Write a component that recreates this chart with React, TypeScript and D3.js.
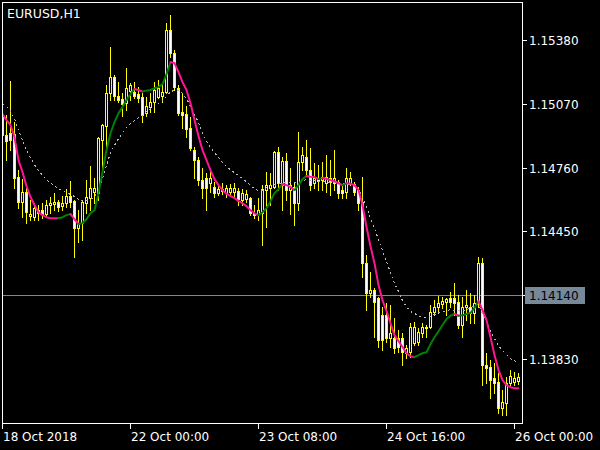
import React from "react";
import * as d3 from "d3";

const symbolTitle = "EURUSD,H1";

const high = [
  1.15039, 1.15015, 1.15180, 1.14981, 1.14748, 1.14704, 1.14660, 1.14602, 1.14587, 1.14578,
  1.14587, 1.14602, 1.14617, 1.14636, 1.14602, 1.14622, 1.14655, 1.14694, 1.14602, 1.14553,
  1.14602, 1.14699, 1.14767, 1.14709, 1.14908, 1.14972, 1.15161, 1.15346, 1.15210, 1.15175,
  1.15122, 1.15243, 1.15170, 1.15175, 1.15151, 1.15122, 1.15103, 1.15122, 1.15175, 1.15185,
  1.15161, 1.15462, 1.15501, 1.15331, 1.15161, 1.15122, 1.15059, 1.15005, 1.14860, 1.14811,
  1.14757, 1.14733, 1.14752, 1.14689, 1.14675, 1.14684, 1.14675, 1.14680, 1.14684, 1.14660,
  1.14655, 1.14651, 1.14617, 1.14578, 1.14612, 1.14675, 1.14738, 1.14733, 1.14840, 1.14860,
  1.14811, 1.14830, 1.14757, 1.14684, 1.14932, 1.14860, 1.14894, 1.14855, 1.14781, 1.14772,
  1.14786, 1.14821, 1.14796, 1.14845, 1.14699, 1.14675, 1.14757, 1.14738, 1.14689, 1.14665,
  1.14714, 1.14335, 1.14252, 1.14174, 1.14131, 1.14082, 1.14101, 1.14092, 1.14028, 1.13970,
  1.13955, 1.13898, 1.14004, 1.14009, 1.13980, 1.14004, 1.13995, 1.14092, 1.14116, 1.14136,
  1.14131, 1.14126, 1.14155, 1.14198, 1.14140, 1.14131, 1.14165, 1.14150, 1.14140, 1.14325,
  1.14320, 1.13858, 1.13824, 1.13810, 1.13761, 1.13679, 1.13742, 1.13776, 1.13766, 1.13761,
];

const open = [
  1.15005, 1.14918, 1.14927, 1.14923, 1.14714, 1.14592, 1.14641, 1.14524, 1.14519, 1.14553,
  1.14553, 1.14534, 1.14578, 1.14583, 1.14592, 1.14573, 1.14587, 1.14622, 1.14597, 1.14466,
  1.14490, 1.14587, 1.14612, 1.14641, 1.14636, 1.14894, 1.14962, 1.15122, 1.15200, 1.15108,
  1.15093, 1.15073, 1.15132, 1.15127, 1.15118, 1.15103, 1.15024, 1.15054, 1.15078, 1.15103,
  1.15108, 1.15127, 1.15428, 1.15316, 1.15146, 1.15029, 1.15020, 1.14952, 1.14845, 1.14796,
  1.14699, 1.14709, 1.14684, 1.14665, 1.14636, 1.14655, 1.14636, 1.14641, 1.14641, 1.14646,
  1.14602, 1.14607, 1.14612, 1.14538, 1.14534, 1.14538, 1.14651, 1.14660, 1.14665, 1.14835,
  1.14675, 1.14791, 1.14651, 1.14665, 1.14587, 1.14786, 1.14811, 1.14748, 1.14684, 1.14709,
  1.14699, 1.14684, 1.14709, 1.14684, 1.14684, 1.14651, 1.14641, 1.14684, 1.14680, 1.14651,
  1.14592, 1.14295, 1.14150, 1.14165, 1.14126, 1.14043, 1.14043, 1.13931, 1.13931, 1.13931,
  1.13931, 1.13858, 1.13863, 1.13907, 1.13912, 1.13955, 1.13980, 1.13985, 1.14057, 1.14082,
  1.14097, 1.14106, 1.14126, 1.14126, 1.14106, 1.13995, 1.14082, 1.14082, 1.14052, 1.14101,
  1.14295, 1.13800, 1.13790, 1.13737, 1.13717, 1.13591, 1.13615, 1.13712, 1.13717, 1.13722,
];

const close = [
  1.14918, 1.14889, 1.14894, 1.14709, 1.14592, 1.14641, 1.14543, 1.14534, 1.14563, 1.14538,
  1.14534, 1.14578, 1.14587, 1.14592, 1.14568, 1.14587, 1.14622, 1.14592, 1.14466, 1.14490,
  1.14592, 1.14617, 1.14660, 1.14660, 1.14903, 1.14967, 1.15122, 1.15200, 1.15108, 1.15088,
  1.15069, 1.15146, 1.15161, 1.15108, 1.15098, 1.15015, 1.15059, 1.15078, 1.15137, 1.15146,
  1.15127, 1.15428, 1.15316, 1.15151, 1.15024, 1.15015, 1.14947, 1.14855, 1.14796, 1.14699,
  1.14660, 1.14660, 1.14709, 1.14636, 1.14655, 1.14646, 1.14660, 1.14660, 1.14660, 1.14607,
  1.14636, 1.14632, 1.14538, 1.14529, 1.14553, 1.14655, 1.14675, 1.14675, 1.14835, 1.14684,
  1.14791, 1.14651, 1.14675, 1.14587, 1.14786, 1.14821, 1.14748, 1.14675, 1.14709, 1.14694,
  1.14714, 1.14714, 1.14689, 1.14709, 1.14636, 1.14636, 1.14709, 1.14709, 1.14641, 1.14587,
  1.14295, 1.14150, 1.14165, 1.14106, 1.13922, 1.13922, 1.13931, 1.13955, 1.13883, 1.13888,
  1.13863, 1.13883, 1.13985, 1.13985, 1.13960, 1.13985, 1.13985, 1.14057, 1.14082, 1.14101,
  1.14111, 1.14121, 1.14106, 1.14101, 1.13995, 1.14082, 1.14092, 1.14052, 1.14101, 1.14295,
  1.13800, 1.13785, 1.13727, 1.13712, 1.13591, 1.13620, 1.13712, 1.13746, 1.13737, 1.13742,
];

const low = [
  1.14845, 1.14796, 1.14845, 1.14660, 1.14563, 1.14519, 1.14490, 1.14505, 1.14505, 1.14505,
  1.14514, 1.14519, 1.14538, 1.14553, 1.14548, 1.14553, 1.14568, 1.14568, 1.14325, 1.14398,
  1.14408, 1.14538, 1.14553, 1.14587, 1.14602, 1.14748, 1.14855, 1.15088, 1.15088, 1.15078,
  1.15010, 1.15039, 1.15088, 1.15098, 1.15078, 1.14981, 1.15010, 1.15029, 1.15029, 1.15098,
  1.15078, 1.15122, 1.15297, 1.15137, 1.15015, 1.14952, 1.14908, 1.14845, 1.14709, 1.14675,
  1.14612, 1.14553, 1.14641, 1.14617, 1.14627, 1.14632, 1.14617, 1.14627, 1.14612, 1.14578,
  1.14578, 1.14592, 1.14529, 1.14514, 1.14505, 1.14384, 1.14471, 1.14578, 1.14660, 1.14651,
  1.14553, 1.14602, 1.14534, 1.14481, 1.14553, 1.14748, 1.14724, 1.14651, 1.14660, 1.14651,
  1.14651, 1.14641, 1.14627, 1.14651, 1.14612, 1.14612, 1.14612, 1.14675, 1.14627, 1.14553,
  1.14228, 1.14067, 1.14131, 1.13936, 1.13888, 1.13873, 1.13912, 1.13888, 1.13858, 1.13863,
  1.13800, 1.13834, 1.13839, 1.13898, 1.13898, 1.13936, 1.13936, 1.13980, 1.14043, 1.14052,
  1.14077, 1.14043, 1.14082, 1.14043, 1.13980, 1.13936, 1.14019, 1.14004, 1.14004, 1.14082,
  1.13703, 1.13712, 1.13640, 1.13664, 1.13567, 1.13557, 1.13557, 1.13703, 1.13703, 1.13708,
];

const maFast = [
  1.15020, 1.14991, 1.14967, 1.14908, 1.14796, 1.14738, 1.14670, 1.14617, 1.14578, 1.14543,
  1.14529, 1.14519, 1.14514, 1.14514, 1.14514, 1.14519, 1.14529, 1.14534, 1.14509, 1.14486,
  1.14490, 1.14509, 1.14538, 1.14553, 1.14636, 1.14738, 1.14845, 1.14927, 1.14981, 1.15024,
  1.15054, 1.15088, 1.15118, 1.15142, 1.15137, 1.15130, 1.15134, 1.15137, 1.15146, 1.15151,
  1.15166, 1.15214, 1.15272, 1.15268, 1.15224, 1.15175, 1.15137, 1.15073, 1.14991, 1.14913,
  1.14845, 1.14796, 1.14748, 1.14704, 1.14675, 1.14651, 1.14632, 1.14622, 1.14612, 1.14597,
  1.14587, 1.14573, 1.14553, 1.14538, 1.14529, 1.14543, 1.14563, 1.14597, 1.14636, 1.14655,
  1.14680, 1.14675, 1.14665, 1.14651, 1.14675, 1.14704, 1.14719, 1.14716, 1.14714, 1.14704,
  1.14709, 1.14706, 1.14699, 1.14694, 1.14684, 1.14675, 1.14684, 1.14682, 1.14675, 1.14651,
  1.14578, 1.14471, 1.14378, 1.14295, 1.14189, 1.14116, 1.14063, 1.14004, 1.13946, 1.13917,
  1.13888, 1.13858, 1.13844, 1.13839, 1.13849, 1.13858, 1.13863, 1.13902, 1.13936, 1.13965,
  1.13995, 1.14024, 1.14040, 1.14049, 1.14040, 1.14042, 1.14049, 1.14054, 1.14078, 1.14111,
  1.14067, 1.14019, 1.13936, 1.13849, 1.13776, 1.13727, 1.13703, 1.13693, 1.13688, 1.13688,
];

const maSlow = [
  1.15073, 1.15059, 1.15039, 1.15000, 1.14942, 1.14894, 1.14845, 1.14811, 1.14777, 1.14748,
  1.14724, 1.14704, 1.14689, 1.14675, 1.14660, 1.14651, 1.14641, 1.14632, 1.14622, 1.14607,
  1.14602, 1.14602, 1.14607, 1.14622, 1.14651, 1.14709, 1.14772, 1.14835, 1.14870, 1.14903,
  1.14932, 1.14957, 1.14976, 1.14991, 1.15005, 1.15015, 1.15034, 1.15049, 1.15059, 1.15073,
  1.15088, 1.15108, 1.15132, 1.15137, 1.15137, 1.15122, 1.15098, 1.15059, 1.15020, 1.14981,
  1.14932, 1.14889, 1.14860, 1.14835, 1.14811, 1.14786, 1.14767, 1.14752, 1.14738, 1.14724,
  1.14709, 1.14694, 1.14675, 1.14660, 1.14651, 1.14651, 1.14665, 1.14675, 1.14680, 1.14684,
  1.14689, 1.14689, 1.14689, 1.14689, 1.14694, 1.14699, 1.14704, 1.14699, 1.14699, 1.14694,
  1.14694, 1.14694, 1.14689, 1.14689, 1.14689, 1.14684, 1.14684, 1.14680, 1.14670, 1.14655,
  1.14622, 1.14573, 1.14514, 1.14466, 1.14413, 1.14359, 1.14305, 1.14252, 1.14199, 1.14160,
  1.14116, 1.14087, 1.14063, 1.14054, 1.14043, 1.14034, 1.14034, 1.14040, 1.14049, 1.14058,
  1.14063, 1.14067, 1.14072, 1.14067, 1.14067, 1.14067, 1.14072, 1.14082, 1.14092, 1.14097,
  1.14049, 1.14019, 1.13970, 1.13931, 1.13898, 1.13873, 1.13854, 1.13834, 1.13824, 1.13815,
];

const timeLabels = ["18 Oct 2018", "22 Oct 00:00", "23 Oct 08:00", "24 Oct 16:00", "26 Oct 00:00"];
const timeLabelBars = [0, 32, 64, 96, 128];
const priceTicks = [1.1538, 1.1507, 1.1476, 1.1445, 1.1414, 1.1383];
const bidPrice = 1.1414;

const FONT = "'DejaVu Sans', sans-serif";
const YELLOW = "#FFFF00";
const PINK = "#FF1493";
const GREEN = "#008000";
const SLATE = "#778899";

export default function App() {
  const W = 600;
  const H = 450;
  const left = 2, right = 522, top = 2, bottom = 423;
  const n = close.length;

  const x = d3.scaleLinear().domain([0, n - 1]).range([2, 518]);
  const y = d3.scaleLinear().domain([1.1383, 1.1538]).range([359, 40]);
  const px = (i: number) => Math.round(x(i));
  const py = (v: number) => Math.round(y(v));

  const candles = close.map((c, i) => {
    const cx = px(i);
    const yo = py(open[i]);
    const yc = py(close[i]);
    const yh = py(high[i]);
    const yl = py(low[i]);
    const bull = close[i] > open[i];
    const t = Math.min(yo, yc);
    const b = Math.max(yo, yc);
    return (
      <g key={i}>
        <line x1={cx + 0.5} x2={cx + 0.5} y1={yh} y2={yl + 1} stroke={YELLOW} strokeWidth={1} />
        {b > t ? (
          <rect x={cx - 0.5} y={t + 0.5} width={2} height={b - t} fill={bull ? "#000000" : "#FFFFFF"} stroke={YELLOW} strokeWidth={1} />
        ) : (
          <line x1={cx - 1} x2={cx + 2} y1={t + 0.5} y2={t + 0.5} stroke={YELLOW} strokeWidth={1} />
        )}
      </g>
    );
  });

  const runs: { color: string; pts: [number, number][] }[] = [];
  let prevColor = PINK;
  for (let i = 1; i < n; i++) {
    const d = maFast[i] - maFast[i - 1];
    const color = d > 0 ? GREEN : d < 0 ? PINK : prevColor;
    prevColor = color;
    const a: [number, number] = [x(i - 1) + 0.5, y(maFast[i - 1])];
    const b: [number, number] = [x(i) + 0.5, y(maFast[i])];
    const last = runs[runs.length - 1];
    if (last && last.color === color) last.pts.push(b);
    else runs.push({ color, pts: [a, b] });
  }
  const lineGen = d3.line<[number, number]>().x((d) => d[0]).y((d) => d[1]);

  const slowPath = d3
    .line<number>()
    .x((_, i) => x(i) + 0.5)
    .y((d) => y(d) + 0.5)(maSlow) as string;

  const bidY = py(bidPrice) + 0.5;

  return (
    <svg
      width={W}
      height={H}
      viewBox={`0 0 ${W} ${H}`}
      style={{ position: "absolute", left: 0, top: 0, display: "block", background: "#000" }}
    >
      <defs>
        <clipPath id="plot">
          <rect x={left + 1} y={top + 1} width={right - left - 1} height={bottom - top - 1} />
        </clipPath>
      </defs>
      <rect x={0} y={0} width={W} height={H} fill="#000" />

      <g clipPath="url(#plot)" shapeRendering="crispEdges">
        <line x1={left} x2={right} y1={bidY} y2={bidY} stroke={SLATE} strokeWidth={1} />
        {candles}
      </g>

      <g clipPath="url(#plot)">
        <path d={slowPath} fill="none" stroke="#B8B8B8" strokeWidth={1} strokeDasharray="2,3" shapeRendering="crispEdges" />
        {runs.map((r, k) => (
          <path key={k} d={lineGen(r.pts) as string} fill="none" stroke={r.color} strokeWidth={2} strokeLinejoin="round" strokeLinecap="round" />
        ))}
      </g>

      <rect x={left + 0.5} y={top + 0.5} width={right - left} height={bottom - top} fill="none" stroke="#FFFFFF" strokeWidth={1} shapeRendering="crispEdges" />

      <text x={7} y={18} fill="#FFFFFF" fontFamily={FONT} fontSize={12.5}>{symbolTitle}</text>

      <g fontFamily={FONT} fontSize={12} fill="#FFFFFF" shapeRendering="crispEdges">
        {priceTicks.map((t) => (
          <g key={t}>
            <line x1={right} x2={right + 5} y1={py(t) + 0.5} y2={py(t) + 0.5} stroke="#FFFFFF" />
            <text x={529} y={py(t) + 4.5}>{t.toFixed(5)}</text>
          </g>
        ))}
        <rect x={525} y={py(bidPrice) - 8} width={60} height={17} fill={SLATE} />
        <text x={529} y={py(bidPrice) + 4.5} fill="#000000">{bidPrice.toFixed(5)}</text>
      </g>

      <g fontFamily={FONT} fontSize={12} fill="#FFFFFF" shapeRendering="crispEdges">
        {timeLabelBars.map((b, k) => (
          <g key={b}>
            <line x1={px(b) + 0.5} x2={px(b) + 0.5} y1={bottom} y2={bottom + 6} stroke="#FFFFFF" />
            <text x={px(b) + 1} y={441}>{timeLabels[k]}</text>
          </g>
        ))}
      </g>
    </svg>
  );
}
